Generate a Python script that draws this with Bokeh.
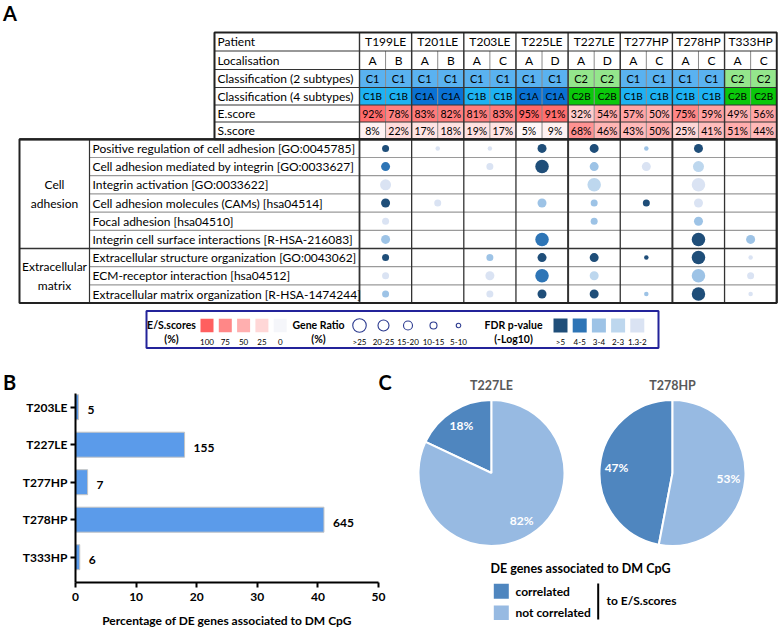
import math
from bokeh.plotting import figure
from bokeh.layouts import column, row
from bokeh.models import Range1d, FixedTicker
from bokeh.core.properties import value
from bokeh.embed import file_html
from bokeh.resources import INLINE

FONT = "Lato"

# ---------------- data: panel A ----------------
patients = ["T199LE", "T201LE", "T203LE", "T225LE", "T227LE", "T277HP", "T278HP", "T333HP"]
localisation = ["A", "B", "A", "B", "A", "C", "A", "D", "A", "D", "A", "C", "A", "C", "A", "C"]
class_2 = ["C1", "C1", "C1", "C1", "C1", "C1", "C1", "C1", "C2", "C2", "C1", "C1", "C1", "C1", "C2", "C2"]
class_4 = ["C1B", "C1B", "C1A", "C1A", "C1B", "C1B", "C1A", "C1A", "C2B", "C2B", "C1B", "C1B", "C1B", "C1B", "C2B", "C2B"]
e_score = [92, 78, 83, 82, 81, 83, 95, 91, 32, 54, 57, 50, 75, 59, 49, 56]
s_score = [8, 22, 17, 18, 19, 17, 5, 9, 68, 46, 43, 50, 25, 41, 51, 44]
header_labels = ["Patient", "Localisation", "Classification (2 subtypes)",
                 "Classification (4 subtypes)", "E.score", "S.score"]

pathways = [
    "Positive regulation of cell adhesion [GO:0045785]",
    "Cell adhesion mediated by integrin [GO:0033627]",
    "Integrin activation  [GO:0033622]",
    "Cell adhesion molecules (CAMs) [hsa04514]",
    "Focal adhesion [hsa04510]",
    "Integrin cell surface interactions [R-HSA-216083]",
    "Extracellular structure organization [GO:0043062]",
    "ECM-receptor interaction [hsa04512]",
    "Extracellular matrix organization [R-HSA-1474244]",
]
group_lines = [["Cell", "adhesion"], ["Extracellular", "matrix"]]
group_sizes = [6, 3]

ratio_levels = [">25", "20-25", "15-20", "10-15", "5-10"]
fdr_levels = [">5", "4-5", "3-4", "2-3", "1.3-2"]
es_levels = [100, 75, 50, 25, 0]

gene_ratio = [
    ["10-15", "5-10", "5-10", "15-20", "15-20", "5-10", "15-20", None],
    ["15-20", None, "10-15", ">25", "15-20", "15-20", "20-25", None],
    ["20-25", None, None, None, ">25", None, ">25", None],
    ["15-20", "10-15", None, "15-20", "10-15", "10-15", "15-20", None],
    ["10-15", None, None, None, "10-15", None, "15-20", None],
    ["15-20", None, None, ">25", None, None, ">25", "15-20"],
    ["10-15", None, "10-15", "15-20", "15-20", "5-10", ">25", "5-10"],
    ["10-15", None, "15-20", ">25", "15-20", None, ">25", "10-15"],
    ["10-15", None, "10-15", "15-20", "15-20", "5-10", ">25", "5-10"],
]
fdr = [
    [">5", "1.3-2", "1.3-2", ">5", ">5", "3-4", ">5", None],
    ["4-5", None, "1.3-2", ">5", "3-4", "1.3-2", "2-3", None],
    ["1.3-2", None, None, None, "2-3", None, "1.3-2", None],
    [">5", "1.3-2", None, "3-4", "3-4", ">5", "1.3-2", None],
    ["1.3-2", None, None, None, "3-4", None, "3-4", None],
    ["3-4", None, None, "4-5", None, None, ">5", "3-4"],
    [">5", None, "3-4", ">5", ">5", ">5", ">5", "1.3-2"],
    ["1.3-2", None, "1.3-2", "4-5", "2-3", None, "3-4", "1.3-2"],
    ["3-4", None, "1.3-2", ">5", ">5", "3-4", ">5", "1.3-2"],
]

# ---------------- data: panel B ----------------
b_patients = ["T203LE", "T227LE", "T277HP", "T278HP", "T333HP"]
b_percent = [0.5, 18.0, 2.0, 41.0, 0.7]
b_counts = [5, 155, 7, 645, 6]
b_ticks = [0, 10, 20, 30, 40, 50]

# ---------------- data: panel C ----------------
c_patients = ["T227LE", "T278HP"]
c_correlated = [18, 47]
c_not_correlated = [82, 53]
c_legend = ["correlated", "not correlated"]

# ---------------- styles ----------------
ratio_size = {">25": 13.5, "20-25": 11, "15-20": 9, "10-15": 7, "5-10": 4.5}
fdr_color = {">5": "#1F4E79", "4-5": "#2E75B6", "3-4": "#9DC3E6", "2-3": "#BDD7EE", "1.3-2": "#DAE3F3"}
class2_color = {"C1": "#5AB2F0", "C2": "#94E68C"}
class4_color = {"C1B": "#1EB2F2", "C1A": "#0A72D4", "C2B": "#0BC80B"}
DARK = "#4F86BF"
LIGHT = "#97BAE2"


def red(v):
    if v == 0:
        return "#F5F6FA"
    g = int(round(255 - v / 100 * 160))
    return "#FF%02X%02X" % (g, g)


def txt(p, xs, ys, texts, size, align="left", bold=False, color="black", baseline="middle"):
    p.text(x=xs, y=ys, text=texts, text_font=value(FONT), text_font_size=value(size),
           text_font_style=value("bold" if bold else "normal"), text_align=align,
           text_baseline=baseline, text_color=color)


def blank(width, height, xr, yr):
    p = figure(width=width, height=height, x_range=Range1d(*xr), y_range=Range1d(*yr),
               output_backend="svg", toolbar_location=None, min_border=0,
               x_axis_location=None, y_axis_location=None)
    p.grid.visible = False
    p.outline_line_color = None
    return p


Y = lambda v: -v
SPLIT = 393          # page y where the bottom row starts
XSPLIT = 392         # page x where panel C figure starts

# =============== PANEL A (and panel letters / pie titles) ===============
pA = blank(778, SPLIT, (0, 778), (-SPLIT, 0))

X_H0 = 214.0
X_C0 = 359.0
COLW = 52.15
SUBW = COLW / 2
X_R = X_C0 + 8 * COLW
H_ROWS = [32.0, 50.5, 69.0, 87.0, 104.5, 121.5, 138.8]
ROWH = 18.2
B_TOP = 138.8
B_BOT = B_TOP + 9 * ROWH
X_G0 = 19.0
X_L0 = 89.0

txt(pA, [2.5, 2.5, 378], [Y(12.5), Y(381.5), Y(381.5)], ["A", "B", "C"], "20px", bold=True)

# header coloured cells
sub_l = [X_C0 + i * SUBW for i in range(16)]
sub_r = [x + SUBW for x in sub_l]
sub_c = [x + SUBW / 2 for x in sub_l]
rows_fill = [
    (2, [class2_color[c] for c in class_2]),
    (3, [class4_color[c] for c in class_4]),
    (4, [red(v) for v in e_score]),
    (5, [red(v) for v in s_score]),
]
for r, cols in rows_fill:
    pA.quad(left=sub_l, right=sub_r, top=[Y(H_ROWS[r])] * 16, bottom=[Y(H_ROWS[r + 1])] * 16,
            fill_color=cols, line_color=None)

hc = [(H_ROWS[i] + H_ROWS[i + 1]) / 2 for i in range(6)]
txt(pA, [X_H0 + 3] * 6, [Y(v) for v in hc], header_labels, "12px")
txt(pA, [X_C0 + (i + 0.5) * COLW for i in range(8)], [Y(hc[0])] * 8, patients, "12px", align="center")
txt(pA, sub_c, [Y(hc[1])] * 16, localisation, "12px", align="center")
txt(pA, sub_c, [Y(hc[2])] * 16, class_2, "11px", align="center")
txt(pA, sub_c, [Y(hc[3])] * 16, class_4, "10px", align="center")
txt(pA, sub_c, [Y(hc[4])] * 16, [f"{v}%" for v in e_score], "10.5px", align="center")
txt(pA, sub_c, [Y(hc[5])] * 16, [f"{v}%" for v in s_score], "10.5px", align="center")

# header grid
pA.segment(x0=sub_l[1:], y0=[Y(H_ROWS[1])] * 15, x1=sub_l[1:], y1=[Y(H_ROWS[6])] * 15,
           line_color="#8A8A8A", line_width=1)
pA.segment(x0=[X_H0] * 7, y0=[Y(v) for v in H_ROWS], x1=[X_R] * 7, y1=[Y(v) for v in H_ROWS],
           line_color="#333333", line_width=1.2)
vx = [X_H0] + [X_C0 + i * COLW for i in range(9)]
pA.segment(x0=vx, y0=[Y(H_ROWS[0])] * len(vx), x1=vx, y1=[Y(H_ROWS[6])] * len(vx),
           line_color="#333333", line_width=1.4)
pA.quad(left=[X_H0], right=[X_R], top=[Y(H_ROWS[0])], bottom=[Y(H_ROWS[6])],
        fill_color=None, line_color="#222222", line_width=1.8)

# body grid
row_edges = [B_TOP + i * ROWH for i in range(10)]
inner = [e for i, e in enumerate(row_edges[1:-1]) if i + 1 != group_sizes[0]]
pA.segment(x0=[X_L0] * len(inner), y0=[Y(v) for v in inner], x1=[X_R] * len(inner),
           y1=[Y(v) for v in inner], line_color="#9A9A9A", line_width=1.2)
sep = row_edges[group_sizes[0]]
pA.segment(x0=[X_G0], y0=[Y(sep)], x1=[X_R], y1=[Y(sep)], line_color="#333333", line_width=1.6)
bvx = [X_L0] + [X_C0 + i * COLW for i in range(9)]
bw = [1.2, 1.8, 1.3, 1.3, 1.3, 2.0, 1.3, 2.0, 1.3, 1.8]
pA.segment(x0=bvx, y0=[Y(B_TOP)] * len(bvx), x1=bvx, y1=[Y(B_BOT)] * len(bvx),
           line_color="#333333", line_width=bw)
pA.quad(left=[X_G0], right=[X_R], top=[Y(B_TOP)], bottom=[Y(B_BOT)],
        fill_color=None, line_color="#222222", line_width=2)
pA.segment(x0=[X_G0], y0=[Y(B_TOP)], x1=[X_R], y1=[Y(B_TOP)], line_color="#222222", line_width=2.2)

txt(pA, [X_L0 + 3] * 9, [Y(B_TOP + (i + 0.5) * ROWH) for i in range(9)], pathways, "12px")
start = 0
for lines, n in zip(group_lines, group_sizes):
    mid = B_TOP + (start + n / 2) * ROWH
    txt(pA, [(X_G0 + X_L0) / 2] * 2, [Y(mid - 9.3), Y(mid + 9.3)], lines, "12px", align="center")
    start += n

# dots
dx, dy, ds, dc = [], [], [], []
for i in range(9):
    for j in range(8):
        if gene_ratio[i][j] is None:
            continue
        dx.append(X_C0 + (j + 0.5) * COLW)
        dy.append(Y(B_TOP + (i + 0.5) * ROWH))
        ds.append(ratio_size[gene_ratio[i][j]])
        dc.append(fdr_color[fdr[i][j]])
pA.scatter(x=dx, y=dy, size=ds, fill_color=dc, line_color=None)

# legend box
pA.quad(left=[146], right=[658], top=[Y(310.5)], bottom=[Y(347.5)], fill_color=None,
        line_color="#23239A", line_width=2)
LT, LB = 324.5, 338.5
txt(pA, [171, 171], [Y(LT), Y(LB)], ["E/S.scores", "(%)"], "10.5px", align="center", bold=True)
es_x = [206.5 + 18.3 * i for i in range(5)]
pA.rect(x=es_x, y=[Y(325)] * 5, width=13, height=13.5, fill_color=[red(v) for v in es_levels], line_color=None)
txt(pA, es_x, [Y(341)] * 5, [str(v) for v in es_levels], "8px", align="center")
txt(pA, [318, 318], [Y(LT), Y(LB)], ["Gene Ratio", "(%)"], "10.5px", align="center", bold=True)
gr_x = [359, 383, 407.5, 433, 458]
pA.scatter(x=gr_x, y=[Y(325)] * 5, size=[ratio_size[k] for k in ratio_levels], fill_color=None,
           line_color="#2B3A8F", line_width=1.1)
txt(pA, gr_x, [Y(341)] * 5, ratio_levels, "8px", align="center")
txt(pA, [513, 513], [Y(LT), Y(LB)], ["FDR p-value", "(-Log10)"], "10.5px", align="center", bold=True)
fd_x = [560 + 19.2 * i for i in range(5)]
pA.rect(x=fd_x, y=[Y(325)] * 5, width=14, height=14, fill_color=[fdr_color[k] for k in fdr_levels],
        line_color=None)
txt(pA, fd_x, [Y(341)] * 5, fdr_levels, "8px", align="center")

# pie titles
pie_cx = [491.0, 672.0]
txt(pA, pie_cx, [Y(385)] * 2, c_patients, "12.5px", align="center", bold=True, color="#595959")

# =============== PANEL B ===============
B_H = 632 - SPLIT
ROW_STEP = 37.5
top_pad = (406.7 - SPLIT) / ROW_STEP
bot_pad = (582 - 556.7) / ROW_STEP
pB = figure(width=XSPLIT, height=B_H, x_range=Range1d(0, 50),
            y_range=Range1d(start=len(b_patients) - 1 + bot_pad, end=-top_pad),
            output_backend="svg", toolbar_location=None,
            min_border_left=75, min_border_right=XSPLIT - 75 - 303, min_border_top=0,
            min_border_bottom=632 - 582)
pB.grid.visible = False
pB.outline_line_color = None
b_y = list(range(len(b_patients)))
pB.hbar(y=b_y, left=0, right=b_percent, height=25 / ROW_STEP, fill_color="#5B9BEA",
        line_color="#C4C4C4", line_width=1)
pB.text(x=b_percent, y=b_y, text=[str(v) for v in b_counts], x_offset=9, y_offset=3,
        text_font=value(FONT), text_font_size=value("12px"), text_font_style=value("bold"),
        text_baseline="middle", text_color="black")
for ax in (pB.xaxis[0], pB.yaxis[0]):
    ax.axis_line_width = 2
    ax.axis_line_color = "black"
    ax.major_tick_line_width = 2
    ax.major_tick_line_color = "black"
    ax.major_tick_out = 5
    ax.major_tick_in = 0
    ax.minor_tick_line_color = None
    ax.major_label_text_font = FONT
    ax.major_label_text_font_style = "bold"
    ax.major_label_text_font_size = "12px"
    ax.major_label_text_color = "black"
pB.xaxis[0].ticker = FixedTicker(ticks=b_ticks)
pB.yaxis[0].ticker = FixedTicker(ticks=b_y)
pB.yaxis[0].major_label_overrides = {i: n for i, n in enumerate(b_patients)}
pB.xaxis[0].major_label_standoff = 5
pB.yaxis[0].major_label_standoff = 3
pB.xaxis[0].axis_label = "Percentage of DE genes associated to DM CpG"
pB.xaxis[0].axis_label_text_font = FONT
pB.xaxis[0].axis_label_text_font_style = "bold"
pB.xaxis[0].axis_label_text_font_size = "12px"
pB.xaxis[0].axis_label_text_color = "black"
pB.xaxis[0].axis_label_standoff = 9

# =============== PANEL C ===============
pC = blank(778 - XSPLIT, B_H, (XSPLIT, 778), (-632, -SPLIT))
CY = Y(472.5)
R = 73
for cx, c, nc in zip(pie_cx, c_correlated, c_not_correlated):
    a0 = math.pi / 2
    a1 = a0 + 2 * math.pi * c / 100
    a2 = a0 + 2 * math.pi
    pC.wedge(x=[cx, cx], y=[CY, CY], radius=R, start_angle=[a0, a1], end_angle=[a1, a2],
             fill_color=[DARK, LIGHT], line_color="white", line_width=2)
    mids = [(a0 + a1) / 2, (a1 + a2) / 2]
    lx = [cx + 0.77 * R * math.cos(m) for m in mids]
    ly = [CY + 0.77 * R * math.sin(m) for m in mids]
    txt(pC, lx, ly, [f"{c}%", f"{nc}%"], "12px", align="center", bold=True, color="white")

txt(pC, [580], [Y(567.5)], ["DE genes associated to DM CpG"], "12.5px", align="center", bold=True)
pC.quad(left=[493.3, 493.3], right=[508.3, 508.3], top=[Y(583.3), Y(605)], bottom=[Y(598.3), Y(619.5)],
        fill_color=[DARK, LIGHT], line_color=None)
txt(pC, [515, 515], [Y(590.5), Y(612)], c_legend, "12px", bold=True)
pC.segment(x0=[597.7], y0=[Y(583)], x1=[597.7], y1=[Y(619)], line_color="black", line_width=2)
txt(pC, [606], [Y(600)], ["to E/S.scores"], "12px", bold=True)

layout = column(pA, row(pB, column(pC)))
open("out.html", "w").write(file_html(layout, INLINE))
